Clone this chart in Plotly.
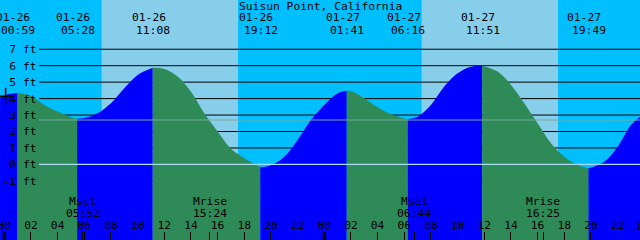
import plotly.graph_objects as go

# ---------------- data ----------------
title = "Suisun Point, California"
days = ["01-26", "01-27"]

extreme_dates = ["01-26", "01-26", "01-26", "01-26", "01-27", "01-27", "01-27", "01-27"]
extreme_times = ["00:59", "05:28", "11:08", "19:12", "01:41", "06:16", "11:51", "19:49"]
extreme_heights = [4.35, 2.78, 5.88, -0.17, 4.48, 2.74, 6.00, -0.23]

# tide height (hours from 01-26 00:00, feet)
sample_hours = [-0.32, 0, 2, 3, 4, 5, 6, 7, 8, 9, 10, 12, 13, 14, 15, 16, 17, 18,
                20, 21, 22, 23, 24, 25, 26, 27, 28, 29, 31, 32, 33, 34, 35,
                37, 38, 39, 40, 41, 42, 43, 45, 46, 47, 47.68]
sample_heights = [4.05, 4.20, 4.16, 3.61, 3.21, 2.87, 2.82, 3.11, 3.72, 4.63, 5.44, 5.80, 5.34, 4.42, 3.11, 2.00, 0.95, 0.38,
                  -0.05, 0.47, 1.49, 2.70, 3.61, 4.32, 4.46, 4.02, 3.47, 3.05, 2.90, 3.61, 4.73, 5.54, 5.94,
                  5.64, 4.83, 3.72, 2.50, 1.29, 0.47, -0.03, 0.17, 1.08, 2.40, 2.90]

sunrise_times = ["07:18", "07:18"]
sunset_times = ["17:32", "17:32"]

moon_labels = ["Mset", "Mrise", "Mset", "Mrise"]
moon_dates = ["01-26", "01-26", "01-27", "01-27"]
moon_times = ["05:52", "15:24", "06:44", "16:25"]

level_ticks = [-1, 0, 1, 2, 3, 4, 5, 6, 7]
hour_ticks = list(range(0, 48, 2))
hour_labels = ["%02d" % (h % 24) for h in hour_ticks]
mean_level = 2.7
now_hour, now_level = 0.1, 4.15

# ---------------- layout constants ----------------
XMIN, XMAX = -0.3225, 47.68
YMIN, YMAX = -4.59, 9.99
W, H = 640, 240
FONT = "DejaVu Sans Mono"
FS = 11.3
DEEP = "#00BFFF"
LIGHT = "#87CEEB"
RISE = "#0000FF"
FALL = "#2E8B57"
YAX_POS = 36.5 / W          # y tick labels end here
GRID_START = 39.0 / W       # horizontal rules start here (fraction of width)
GRID_X0 = XMIN + GRID_START * (XMAX - XMIN)


def hrs(date, t):
    h, m = map(int, t.split(":"))
    return 24 * days.index(date) + h + m / 60.0


def py(pix):
    return 1 - pix / H


ext_h = [hrs(d, t) for d, t in zip(extreme_dates, extreme_times)]

pts = sorted(list(zip(sample_hours, sample_heights)) + list(zip(ext_h, extreme_heights)))
bounds = [sample_hours[0]] + ext_h + [sample_hours[-1]]

fig = go.Figure()

# black horizontal rules, drawn first so the water hides them
gx, gy = [], []
for lv in level_ticks:
    if lv == 0:
        continue
    gx += [GRID_X0, XMAX, None]
    gy += [lv, lv, None]
fig.add_trace(go.Scatter(x=gx, y=gy, mode="lines", line=dict(color="black", width=1),
                         hoverinfo="skip", showlegend=False))

for i in range(len(bounds) - 1):
    a, b = bounds[i], bounds[i + 1]
    seg = [p for p in pts if a - 1e-9 <= p[0] <= b + 1e-9]
    xs = [p[0] for p in seg]
    ys = [p[1] for p in seg]
    color = RISE if ys[-1] > ys[0] else FALL
    fig.add_trace(go.Scatter(x=[a, b], y=[YMIN, YMIN], mode="lines",
                             line=dict(width=0), hoverinfo="skip", showlegend=False))
    fig.add_trace(go.Scatter(x=xs, y=ys, mode="lines", fill="tonexty", fillcolor=color,
                             line=dict(width=0, shape="spline", color=color),
                             hoverinfo="skip", showlegend=False))

fig.add_trace(go.Scatter(x=[now_hour], y=[now_level], mode="markers",
                         marker=dict(symbol="cross-thin", size=12,
                                     line=dict(width=1.5, color="black")),
                         hoverinfo="skip", showlegend=False))

shapes = []
for sr, ss, d in zip(sunrise_times, sunset_times, days):
    shapes.append(dict(type="rect", xref="x", yref="y", x0=hrs(d, sr), x1=hrs(d, ss),
                       y0=YMIN, y1=YMAX, fillcolor=LIGHT, line=dict(width=0), layer="below"))
shapes.append(dict(type="line", xref="x", yref="y", x0=GRID_X0, x1=XMAX, y0=0, y1=0,
                   line=dict(color="#a8dcf0", width=1.2), layer="above"))
shapes.append(dict(type="line", xref="x", yref="y", x0=GRID_X0, x1=XMAX, y0=mean_level, y1=mean_level,
                   line=dict(color="#78a8a0", width=1.2), layer="above"))
for d in days:
    mx = hrs(d, "00:00")
    shapes.append(dict(type="line", xref="x", yref="paper", x0=mx, x1=mx, y0=0, y1=8 / H,
                       line=dict(color="black", width=3), layer="above"))

ann = []
ann.append(dict(text=title, xref="paper", yref="paper", x=0.5, y=py(6), showarrow=False,
                xanchor="center", yanchor="middle", font=dict(family=FONT, size=FS, color="black")))
for d, t, hx in zip(extreme_dates, extreme_times, ext_h):
    ann.append(dict(text=d, xref="x", yref="paper", x=hx, y=py(17.5), xshift=-4, showarrow=False,
                    xanchor="center", yanchor="middle", font=dict(family=FONT, size=FS, color="black")))
    ann.append(dict(text=t, xref="x", yref="paper", x=hx, y=py(30), xshift=0.5, showarrow=False,
                    xanchor="center", yanchor="middle", font=dict(family=FONT, size=FS, color="black")))
moon_h = [hrs(d, t) for d, t in zip(moon_dates, moon_times)]
for lab, t, hx in zip(moon_labels, moon_times, moon_h):
    ann.append(dict(text=lab, xref="x", yref="paper", x=hx, y=py(201.7), showarrow=False,
                    xanchor="center", yanchor="middle", font=dict(family=FONT, size=FS, color="black")))
    ann.append(dict(text=t, xref="x", yref="paper", x=hx, y=py(213.3), showarrow=False,
                    xanchor="center", yanchor="middle", font=dict(family=FONT, size=FS, color="black")))
# partially visible midnight label at the right edge
ann.append(dict(text="00", xref="paper", yref="paper", x=(48 - XMIN) / (XMAX - XMIN), y=py(226),
                showarrow=False, xanchor="center", yanchor="middle",
                font=dict(family=FONT, size=FS, color="black")))

fig.update_layout(
    width=W, height=H, margin=dict(l=0, r=0, t=0, b=0, autoexpand=False),
    paper_bgcolor=DEEP, plot_bgcolor=DEEP, showlegend=False,
    shapes=shapes, annotations=ann,
    xaxis=dict(range=[XMIN, XMAX], domain=[0, 1], showgrid=False, zeroline=False, showline=False,
               tickvals=hour_ticks + moon_h, ticktext=hour_labels + [""] * len(moon_h),
               ticks="inside", ticklen=8, tickwidth=1, tickcolor="black",
               ticklabelposition="inside", ticklabeloverflow="allow",
               tickfont=dict(family=FONT, size=FS, color="black"), fixedrange=True),
    yaxis=dict(range=[YMIN, YMAX], domain=[0, 1], showgrid=False, zeroline=False, showline=False,
               anchor="free", position=YAX_POS, side="left",
               tickvals=level_ticks, ticktext=["%d ft" % v for v in level_ticks],
               ticks="", ticklabeloverflow="allow",
               tickfont=dict(family=FONT, size=FS, color="black"), fixedrange=True),
)

fig.write_html("out.html")
